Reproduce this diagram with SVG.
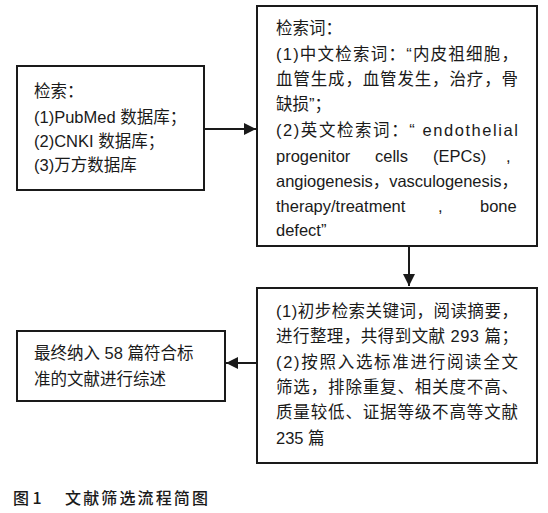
<svg xmlns="http://www.w3.org/2000/svg" width="548" height="513" viewBox="0 0 548 513">
<defs>
<style>
.box{fill:#fff;stroke:#1a1a1a;stroke-width:2}
.t{font-family:"Liberation Sans","Noto Sans CJK SC",sans-serif;font-size:16.5px;fill:#1a1a1a}
.cap{font-family:"Noto Sans CJK SC",sans-serif;font-size:16px;font-weight:500;fill:#1a1a1a}
.ln{stroke:#1a1a1a;stroke-width:2;fill:none}
</style>
<marker id="ah" viewBox="0 0 10 10" refX="10" refY="5" markerWidth="6" markerHeight="6" orient="auto" markerUnits="strokeWidth">
<path d="M0,0 L10,5 L0,10 Z" fill="#1a1a1a"/>
</marker>
</defs>
<rect width="548" height="513" fill="#fff"/>
<g id="node-search">
<rect class="box" x="17" y="66" width="187" height="124"/>
<text class="t" x="34" y="97">检索：</text>
<text class="t" x="34" y="123">(1)PubMed 数据库；</text>
<text class="t" x="34" y="147">(2)CNKI 数据库；</text>
<text class="t" x="34" y="171">(3)万方数据库</text>
</g>
<g id="node-keywords">
<rect class="box" x="257" y="6" width="280" height="240"/>
<text class="t" x="276" y="34">检索词：</text>
<text class="t" x="276" y="60" textLength="242" lengthAdjust="spacing">(1)中文检索词：“内皮祖细胞，</text>
<text class="t" x="276" y="85" textLength="242" lengthAdjust="spacing">血管生成，血管发生，治疗，骨</text>
<text class="t" x="276" y="110">缺损”；</text>
<text class="t" x="276" y="136" textLength="242" lengthAdjust="spacing">(2)英文检索词：“ endothelial</text>
<text class="t" y="162"><tspan x="276">progenitor</tspan><tspan x="375">cells</tspan><tspan x="433">(EPCs)</tspan><tspan x="506">,</tspan></text>
<text class="t" x="276" y="187" textLength="242" lengthAdjust="spacing">angiogenesis，vasculogenesis，</text>
<text class="t" y="212"><tspan x="276">therapy/treatment</tspan><tspan x="438">,</tspan><tspan x="480">bone</tspan></text>
<text class="t" x="276" y="236">defect”</text>
</g>
<g id="node-screen">
<rect class="box" x="257" y="288" width="280" height="175"/>
<text class="t" x="276" y="317" textLength="242" lengthAdjust="spacing">(1)初步检索关键词，阅读摘要，</text>
<text class="t" x="276" y="342" textLength="242" lengthAdjust="spacing">进行整理，共得到文献 293 篇；</text>
<text class="t" x="276" y="368" textLength="242" lengthAdjust="spacing">(2)按照入选标准进行阅读全文</text>
<text class="t" x="276" y="393" textLength="242" lengthAdjust="spacing">筛选，排除重复、相关度不高、</text>
<text class="t" x="276" y="418" textLength="242" lengthAdjust="spacing">质量较低、证据等级不高等文献</text>
<text class="t" x="276" y="444">235 篇</text>
</g>
<g id="node-final">
<rect class="box" x="17" y="331" width="208" height="70"/>
<text class="t" x="34" y="359">最终纳入 58 篇符合标</text>
<text class="t" x="34" y="385">准的文献进行综述</text>
</g>
<g id="connectors">
<line class="ln" x1="204" y1="129" x2="256" y2="129" marker-end="url(#ah)"/>
<line class="ln" x1="409" y1="246" x2="409" y2="286" marker-end="url(#ah)"/>
<line class="ln" x1="257" y1="363" x2="226" y2="363" marker-end="url(#ah)"/>
</g>
<g id="caption">
<text class="cap" x="13" y="504">图 1</text>
<text class="cap" x="65" y="504" textLength="143" lengthAdjust="spacing">文献筛选流程简图</text>
</g>
</svg>
